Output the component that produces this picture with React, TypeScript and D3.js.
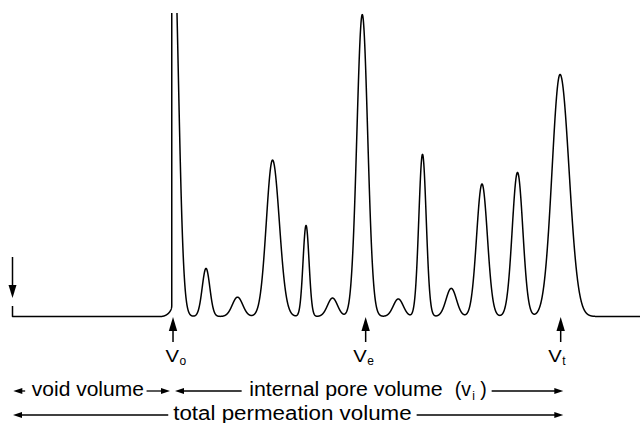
import React from 'react';
import * as d3 from 'd3';

// ---------------- data ----------------
const WIDTH = 640;
const HEIGHT = 423;

// elution volume axis (mL) and detector signal (a.u.)
const volumeDomain = [0, 50];
const signalDomain = [0, 100];

// marked volumes: V_o (void), V_e (elution), V_t (total)
const markerSubscripts = ['o', 'e', 't'];
const markerVolumes = [12.79, 28.14, 43.68];

// void (excluded) peak: rounded steep front, gaussian tail, off-scale height
const voidOnset = 12.69;
const voidApex = 12.8;
const voidHeight = 132;
const voidTailWidth = 0.414;
const voidFrontRoundingVolume = 0.9;
const voidFrontRoundingSignal = 3.6;

// separated sample peaks
const peakVolumes = [15.42, 17.93, 20.72, 23.39, 25.5, 27.87, 30.74, 32.67, 34.96, 37.41, 40.24, 43.63];
const peakHeights = [15.9, 6.4, 51.7, 30.1, 6.1, 99.8, 5.8, 53.6, 9.3, 43.8, 47.6, 80.0];
const peakWidthsLeft = [0.303, 0.414, 0.494, 0.239, 0.398, 0.43, 0.398, 0.295, 0.414, 0.43, 0.422, 0.637];
const peakWidthsRight = [0.303, 0.414, 0.542, 0.239, 0.398, 0.43, 0.398, 0.295, 0.414, 0.43, 0.422, 0.717];

// injection tick at start of trace
const injectionTick = 3.5;

// bottom range labels
const rangeLabels = ['void volume', 'internal pore volume', 'total permeation volume'];
const rangeFrom = [0, markerVolumes[0], 0];
const rangeTo = [markerVolumes[0], markerVolumes[2], markerVolumes[2]];

// ---------------- layout ----------------
const FONT = '"Liberation Sans", Arial, Helvetica, sans-serif';
const rangeRowY = [391, 391, 415];
const rangeTipInsetL = [0.8, 2, 0.5];
const rangeTipInsetR = [-3, 2.6, 2.6];
const rangeTextWidth = [112, 193.4, 238.4];
const rangeBlockWidth = [112, 236.4, 238.4];
const rangeCenterDx = [-3.8, -1.7, 4.3];
const rangeGap = [6.7, 7.6, 5];
const rangeGapR = [2.7, 6, 5];
const labelDx = [-7.5, -12.5, -12.5];

function signal(v: number): number {
  let s = 0;
  const r0 = voidOnset - voidFrontRoundingVolume;
  if (v < r0) s += 0;
  else if (v < voidOnset) {
    const t = (v - r0) / voidFrontRoundingVolume;
    s += voidFrontRoundingSignal * (1 - Math.sqrt(Math.max(0, 1 - t * t)));
  } else if (v <= voidApex) s += voidHeight;
  else s += voidHeight * Math.exp(-0.5 * ((v - voidApex) / voidTailWidth) ** 2);
  for (let i = 0; i < peakVolumes.length; i++) {
    const d = v - peakVolumes[i];
    const w = d < 0 ? peakWidthsLeft[i] : peakWidthsRight[i];
    s += peakHeights[i] * Math.exp(-0.5 * (d / w) ** 2);
  }
  return s;
}

export default function App() {
  const x = d3.scaleLinear().domain(volumeDomain).range([12.5, 640]);
  const y = d3.scaleLinear().domain(signalDomain).range([316.5, 14]);

  const pts: [number, number][] = [[volumeDomain[0], injectionTick]];
  const step = 0.005;
  for (let v = volumeDomain[0]; v <= volumeDomain[1] + 1e-9; v += step) {
    if (v < voidOnset && v + step >= voidOnset) {
      pts.push([v, signal(v)]);
      pts.push([voidOnset - 1e-6, signal(voidOnset - 1e-6)]);
      continue;
    }
    pts.push([v, signal(v)]);
  }
  const line = d3
    .line<[number, number]>()
    .x((d) => x(d[0]))
    .y((d) => y(d[1]));
  const path = line(pts) || '';

  const baseY = y(0);
  const injX = x(0);

  const upArrow = (cx: number, key: string) => {
    const tip = baseY + 0.5;
    const headLen = 14;
    const hw = 4.2;
    return (
      <g key={key}>
        <line x1={cx} x2={cx} y1={tip + headLen - 1} y2={342} stroke="#000" strokeWidth={1.5} />
        <path d={`M${cx},${tip} L${cx - hw},${tip + headLen} L${cx + hw},${tip + headLen} Z`} fill="#000" />
      </g>
    );
  };

  const hArrow = (xFrom: number, xTip: number, yy: number, key: string) => {
    const dir = xTip > xFrom ? 1 : -1;
    const len = 9;
    const hw = 3;
    return (
      <g key={key}>
        <line x1={xFrom} x2={xTip - dir * (len - 1)} y1={yy} y2={yy} stroke="#000" strokeWidth={1.3} />
        <path d={`M${xTip},${yy} L${xTip - dir * len},${yy - hw} L${xTip - dir * len},${yy + hw} Z`} fill="#000" />
      </g>
    );
  };

  return (
    <svg
      width={WIDTH}
      height={HEIGHT}
      style={{ position: 'absolute', left: 0, top: 0, display: 'block', background: '#fff' }}
      fontFamily={FONT}
    >
      <rect x={0} y={0} width={WIDTH} height={HEIGHT} fill="#fff" />
      <defs>
        <clipPath id="plotClip">
          <rect x={0} y={13} width={WIDTH} height={HEIGHT - 13} />
        </clipPath>
      </defs>

      {/* trace */}
      <path d={path} fill="none" stroke="#000" strokeWidth={1.5} strokeLinejoin="round" clipPath="url(#plotClip)" />

      {/* injection arrow */}
      <line x1={injX} x2={injX} y1={257} y2={288} stroke="#000" strokeWidth={1.5} />
      <path d={`M${injX},${298} L${injX - 4},${285} L${injX + 4},${285} Z`} fill="#000" />

      {/* marker arrows and labels */}
      {markerVolumes.map((v, i) => {
        const cx = x(v);
        return (
          <g key={'m' + i}>
            {upArrow(cx, 'a' + i)}
            <text x={cx + labelDx[i]} y={361.7} fontSize={17} textLength={13.5} lengthAdjust="spacingAndGlyphs">
              V
            </text>
            <text x={cx + labelDx[i] + 14} y={365.2} fontSize={12}>
              {markerSubscripts[i]}
            </text>
          </g>
        );
      })}

      {/* range arrows */}
      {rangeLabels.map((lab, i) => {
        const tipL = x(rangeFrom[i]) + rangeTipInsetL[i];
        const tipR = x(rangeTo[i]) + rangeTipInsetR[i];
        const center = (tipL + tipR) / 2 + rangeCenterDx[i];
        const left = center - rangeBlockWidth[i] / 2;
        const right = center + rangeBlockWidth[i] / 2;
        const ry = rangeRowY[i];
        const ty = ry + 5;
        return (
          <g key={'r' + i}>
            {hArrow(left - rangeGap[i], tipL, ry, 'l' + i)}
            {hArrow(right + rangeGapR[i], tipR, ry, 'rr' + i)}
            <text x={left} y={ty} fontSize={19.5} textLength={rangeTextWidth[i]} lengthAdjust="spacingAndGlyphs">
              {lab}
            </text>
            {i === 1 && (
              <g>
                <text x={left + 205.5} y={ty} fontSize={19.5}>
                  (v
                </text>
                <text x={left + 223} y={ty + 3.5} fontSize={12}>
                  i
                </text>
                <text x={left + 231} y={ty} fontSize={19.5}>
                  )
                </text>
              </g>
            )}
          </g>
        );
      })}
    </svg>
  );
}
